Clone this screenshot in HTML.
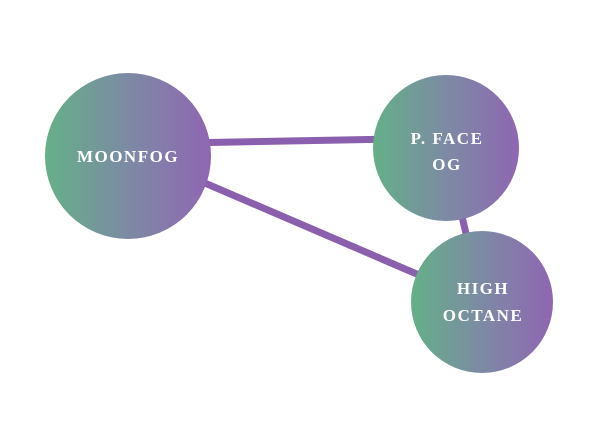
<!DOCTYPE html>
<html><head><style>body{margin:0;background:#fff}</style></head><body>
<svg width="608" height="428" xmlns="http://www.w3.org/2000/svg">
<defs><linearGradient id="g" x1="0" y1="0" x2="1" y2="0">
<stop offset="0" stop-color="#64b088"/><stop offset="0.5" stop-color="#7d8aa4"/><stop offset="1" stop-color="#8f66b2"/></linearGradient></defs>
<g stroke="#8a5fae" stroke-width="7">
<line x1="128" y1="144" x2="446" y2="138"/>
<line x1="128" y1="150" x2="482" y2="302"/>
<line x1="446" y1="148" x2="482" y2="302"/>
</g>
<circle cx="128" cy="156" r="83" fill="url(#g)"/>
<circle cx="446" cy="148" r="73" fill="url(#g)"/>
<circle cx="482" cy="302" r="71" fill="url(#g)"/>
<g fill="#fff" font-family="'Liberation Serif',serif" font-weight="bold" font-size="17" text-anchor="middle" letter-spacing="1.5">
<text x="128" y="162">MOONFOG</text>
<text x="447" y="144">P. FACE</text>
<text x="447" y="170">OG</text>
<text x="483" y="294">HIGH</text>
<text x="483" y="321">OCTANE</text>
</g>
</svg>
</body></html>
